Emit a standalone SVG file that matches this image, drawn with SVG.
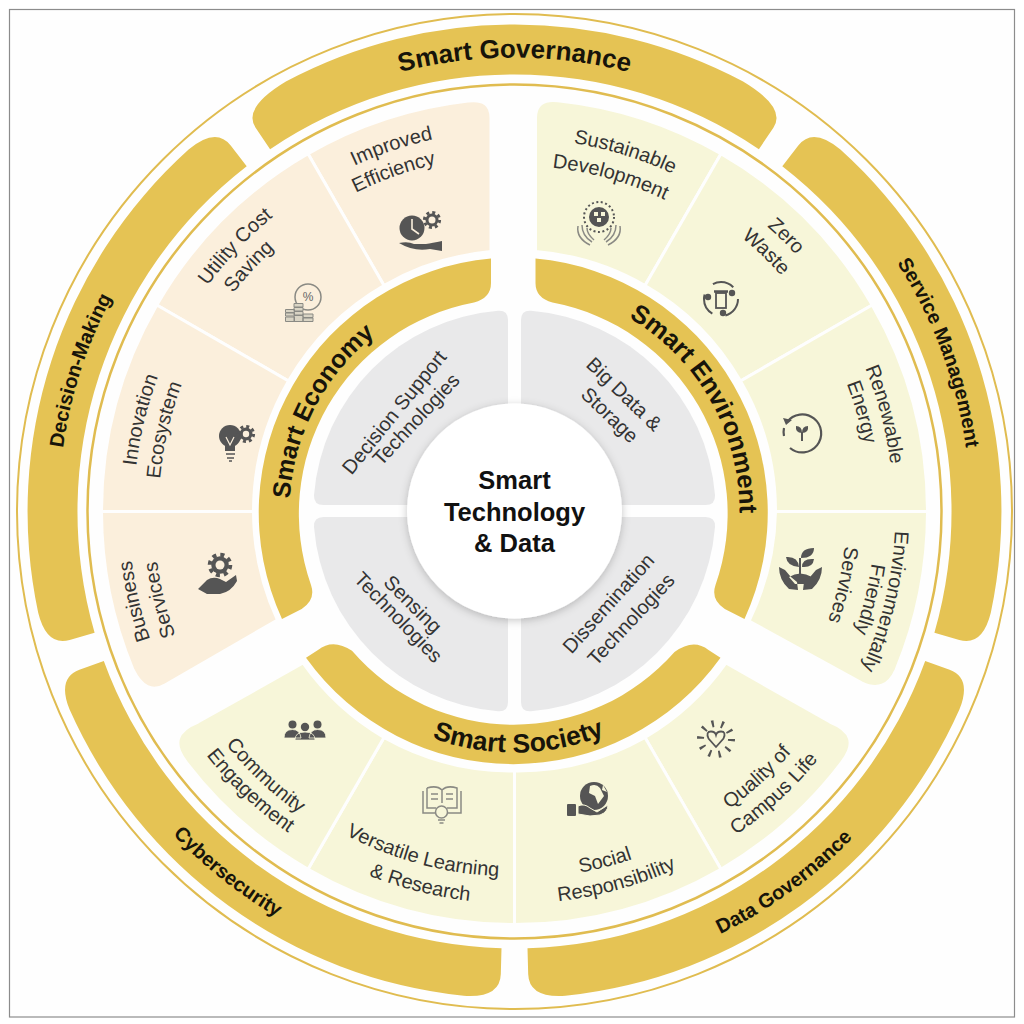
<svg xmlns="http://www.w3.org/2000/svg" width="1024" height="1024" viewBox="0 0 1024 1024">
<style>
text{font-family:"Liberation Sans",Arial,sans-serif}
.gold{fill:#e5c354}
.ring{fill:none;stroke:#e0bc50}
.pe{fill:#fbefdc;stroke:#fefefe;stroke-width:3}
.ye{fill:#f7f6d9;stroke:#fefefe;stroke-width:3}
.gr{fill:#e9e9ea}
.t{font-size:20px;fill:#333;text-anchor:middle}
.b{font-weight:700;fill:#17140a;text-anchor:middle}
.c{font-size:25.5px;font-weight:700;fill:#111;text-anchor:middle}
.i{fill:#555}
.il{fill:none;stroke:#555;stroke-width:2}
.il2{fill:none;stroke:#8a8a84;stroke-width:1.5}
</style>
<defs>
<filter id="sh" x="-20%" y="-20%" width="140%" height="140%"><feDropShadow dx="0" dy="2" stdDeviation="4" flood-color="#000" flood-opacity=".22"/></filter>
<path id="cw454" d="M514.5,965.5A454,454 0 1 1 514.5,57.5A454,454 0 1 1 514.5,965.5"/>
<path id="cw456" d="M514.5,967.5A456,456 0 1 1 514.5,55.5A456,456 0 1 1 514.5,967.5"/>
<path id="cw225" d="M514.5,736.5A225,225 0 1 1 514.5,286.5A225,225 0 1 1 514.5,736.5"/>
<path id="ccw470" d="M514.5,41.5A470,470 0 1 0 514.5,981.5A470,470 0 1 0 514.5,41.5"/>
<path id="ccw241" d="M514.5,270.5A241,241 0 1 0 514.5,752.5A241,241 0 1 0 514.5,270.5"/>
<path id="c386" d="M514.5,897.5A386,386 0 1 1 514.5,125.5A386,386 0 1 1 514.5,897.5"/>
<path id="c381" d="M514.5,892.5A381,381 0 1 1 514.5,130.5A381,381 0 1 1 514.5,892.5"/>
<path id="c379" d="M514.5,890.5A379,379 0 1 1 514.5,132.5A379,379 0 1 1 514.5,890.5"/>
<path id="c373" d="M514.5,884.5A373,373 0 1 1 514.5,138.5A373,373 0 1 1 514.5,884.5"/>
<path id="c361" d="M514.5,872.5A361,361 0 1 1 514.5,150.5A361,361 0 1 1 514.5,872.5"/>
<path id="c356" d="M514.5,867.5A356,356 0 1 1 514.5,155.5A356,356 0 1 1 514.5,867.5"/>
<path id="c346" d="M514.5,857.5A346,346 0 1 1 514.5,165.5A346,346 0 1 1 514.5,857.5"/>
<path id="c332" d="M514.5,843.5A332,332 0 1 1 514.5,179.5A332,332 0 1 1 514.5,843.5"/>
<path id="a371" d="M514.5,140.5A371,371 0 1 0 514.5,882.5A371,371 0 1 0 514.5,140.5"/>
<path id="a393" d="M514.5,118.5A393,393 0 1 0 514.5,904.5A393,393 0 1 0 514.5,118.5"/>
<path id="a365" d="M514.5,146.5A365,365 0 1 0 514.5,876.5A365,365 0 1 0 514.5,146.5"/>
<path id="a392" d="M514.5,119.5A392,392 0 1 0 514.5,903.5A392,392 0 1 0 514.5,119.5"/>
<path id="a367" d="M514.5,144.5A367,367 0 1 0 514.5,878.5A367,367 0 1 0 514.5,144.5"/>
<g id="gear"><circle r="6.5"/><circle r="7.6" fill="none" stroke="#555" stroke-width="3" stroke-dasharray="3 2.97"/></g>
</defs>
<rect width="1024" height="1024" fill="#fff"/>
<rect x="9.5" y="9.5" width="1005" height="1007.5" fill="#fefefe" stroke="#8c8c8c" stroke-width="1.2"/>
<circle class="ring" cx="514.5" cy="511.5" r="497.5" stroke-width="2"/>
<circle class="ring" cx="514.5" cy="511.5" r="427" stroke-width="2.5"/>

<g id="smart-governance">
<path class="gold" d="M270.1,149.2L255.6,127.7Q242.2,107.8 285.9,81.5A487,487 0 0 1 743.1,81.5Q786.8,107.8 773.4,127.7L758.9,149.2A437,437 0 0 0 270.1,149.2Z"/>
<text class="b" font-size="26" transform="rotate(0 514.5 511.5)"><textPath href="#cw454" startOffset="50%">Smart Governance</textPath></text>
</g>
<g id="service-management">
<path class="gold" d="M782.3,166.2L798.3,145.6Q813,126.7 840.4,149.6A487,487 0 0 1 990.8,612.7Q982.4,646.5 959.3,639.9L934.4,632.7A437,437 0 0 0 782.3,166.2Z"/>
<text class="b" font-size="20" transform="rotate(69.5 514.5 511.5)"><textPath href="#cw456" startOffset="50%">Service Management</textPath></text>
</g>
<g id="data-governance">
<path class="gold" d="M925.2,661L949.6,669.8Q972.1,678.1 959.4,709.6A487,487 0 0 1 565.4,995.8Q529,998.3 528.2,974.3L527.5,948.3A437,437 0 0 0 925.2,661Z"/>
<text class="b" font-size="20" transform="rotate(-36 514.5 511.5)"><textPath href="#ccw470" startOffset="50%">Data Governance</textPath></text>
</g>
<g id="cybersecurity">
<path class="gold" d="M103.8,661L79.4,669.8Q56.9,678.1 69.6,709.6A487,487 0 0 0 463.6,995.8Q500,998.3 500.8,974.3L501.5,948.3A437,437 0 0 1 103.8,661Z"/>
<text class="b" font-size="20" transform="rotate(38.5 514.5 511.5)"><textPath href="#ccw470" startOffset="50%">Cybersecurity</textPath></text>
</g>
<g id="decision-making">
<path class="gold" d="M246.7,166.2L230.7,145.6Q216,126.7 188.6,149.6A487,487 0 0 0 38.2,612.7Q46.6,646.5 69.7,639.9L94.6,632.7A437,437 0 0 1 246.7,166.2Z"/>
<text class="b" font-size="20" transform="rotate(-72 514.5 511.5)"><textPath href="#cw456" startOffset="50%">Decision-Making</textPath></text>
</g>

<g id="smart-economy">
<path class="gold" d="M491,258.6L491,283Q491,298 474,302.5A215,215 0 0 0 311,585Q316,600 301.7,609L282,619A255,255 0 0 1 491,258.6Z"/>
<text class="b" font-size="25" transform="rotate(-62.5 514.5 511.5)"><textPath href="#cw225" startOffset="50%">Smart Economy</textPath></text>
</g>
<g id="smart-environment">
<path class="gold" d="M535.5,258.6L535.5,283Q535.5,298 552.5,302.5A215,215 0 0 1 715.5,585Q710.5,600 724.8,609L744.5,619A255,255 0 0 0 535.5,258.6Z"/>
<text class="b" font-size="25.5" transform="rotate(60.5 514.5 511.5)"><textPath href="#cw225" startOffset="50%">Smart Environment</textPath></text>
</g>
<g id="smart-society">
<path class="gold" d="M306,657.7L318,650Q333,638 352,650.8A214,214 0 0 0 674.5,652Q693.5,638 708.5,650L720.5,657.7A255,255 0 0 1 306,657.7Z"/>
<text class="b" font-size="26.5" transform="rotate(-1 514.5 511.5)"><textPath href="#ccw241" startOffset="50%">Smart Society</textPath></text>
</g>

<g id="improved-efficiency">
<path class="pe" d="M308,153.8A413,413 0 0 1 468,101.1Q491,98 491,118L491,251.5A261,261 0 0 0 384,285.5Z"/>
<text class="t" transform="rotate(-18.6 514.5 511.5)"><textPath href="#c381" startOffset="50%">Improved</textPath></text>
<text class="t" transform="rotate(-19.6 514.5 511.5)"><textPath href="#c356" startOffset="50%">Efficiency</textPath></text>
<circle class="i" cx="412" cy="228" r="12.5"/>
<path d="M412,219V229L419,234" fill="none" stroke="#fbefdc" stroke-width="1.6"/>
<use href="#gear" class="i" x="432" y="220"/><circle cx="432" cy="220" r="3.5" fill="#fbefdc"/>
<path class="i" d="M399,243Q408,241 414,244L426,244Q432,243 442,241L442,251L430,249Q414,252 399,243Z"/>
</g>
<g id="utility-cost-saving">
<path class="pe" d="M156.8,305A413,413 0 0 1 308,153.8L384,285.5A261,261 0 0 0 288.5,381Z"/>
<text class="t" transform="rotate(-46.5 514.5 511.5)"><textPath href="#c381" startOffset="50%">Utility Cost</textPath></text>
<text class="t" transform="rotate(-47.3 514.5 511.5)"><textPath href="#c356" startOffset="50%">Saving</textPath></text>
<circle class="il2" cx="308" cy="297" r="13"/>
<text x="308" y="301" font-size="12" fill="#666" text-anchor="middle">%</text>
<path fill="#d9d4c4" stroke="#8a8a84" d="M285.5,309.5h9v3h-9zM285.5,313h9v3h-9zM285.5,317h9v4.500h-9zM294,303.500h9v3.500h-9zM294,307.500h9v3.500h-9zM294,311.500h9v3.500h-9zM294,315.500h9v6h-9zM303,314h10v3.500h-10zM303,318h10v3.500h-10z"/>
</g>
<g id="innovation-ecosystem">
<path class="pe" d="M101.500,511.500A413,413 0 0 1 156.8,305L288.5,381A261,261 0 0 0 253.5,511.500Z"/>
<text class="t" transform="rotate(-76.2 514.5 511.5)"><textPath href="#c381" startOffset="50%">Innovation</textPath></text>
<text class="t" transform="rotate(-76.9 514.5 511.5)"><textPath href="#c356" startOffset="50%">Ecosystem</textPath></text>
<circle class="i" cx="230" cy="436" r="11"/><path class="i" d="M225,445h10v6h-10z"/>
<path d="M226,437l4,8l4,-8" fill="none" stroke="#fbefdc" stroke-width="1.2"/>
<path class="il" d="M226,454h9M227,458h7M229,461h3" style="stroke-width:1.6"/>
<use href="#gear" class="i" x="246" y="434"/><circle cx="246" cy="434" r="3.2" fill="#fbefdc"/>
</g>
<g id="business-services">
<path class="pe" d="M253.500,511.500L101.500,511.500A413,413 0 0 0 133,669.700Q146,696 165,685L277.500,620A261,261 0 0 1 253.500,511.500Z"/>
<text class="t" transform="rotate(-103.3 514.5 511.5)"><textPath href="#c386" startOffset="50%">Business</textPath></text>
<text class="t" transform="rotate(-104 514.5 511.5)"><textPath href="#c361" startOffset="50%">Services</textPath></text>
<use href="#gear" class="i" transform="translate(220,565) scale(1.35)"/><circle cx="220" cy="565" r="4.500" fill="#fbefdc"/>
<path class="i" d="M198,589L207,580Q213,576 220,579L226,582L236,575L237,581Q231,592 220,594L207,594Z"/>
</g>

<g id="sustainable-development">
<path class="ye" d="M535.500,118Q535.500,98 558,100.800A413,413 0 0 1 721,153.800L645,285.500A261,261 0 0 0 535.500,251.500Z"/>
<text class="t" transform="rotate(17.1 514.5 511.5)"><textPath href="#c373" startOffset="50%">Sustainable</textPath></text>
<text class="t" transform="rotate(16 514.5 511.5)"><textPath href="#c346" startOffset="50%">Development</textPath></text>
<circle class="i" cx="599" cy="217" r="10"/>
<path d="M594,212h4v4h-4zM601,212h4v4h-4zM597,218h4v4h-4z" fill="#f7f6d9"/>
<circle class="il" cx="599" cy="217" r="15" stroke-dasharray="2 2.500"/>
<path class="il2" d="M578,226Q576,238 590,245M582,225Q582,236 592,242M587,228Q587,234 594,240M620,226Q622,238 608,245M616,225Q616,236 606,242M611,228Q611,234 604,240"/>
</g>
<g id="zero-waste">
<path class="ye" d="M721,153.800A413,413 0 0 1 872.200,305L740.500,381A261,261 0 0 0 645,285.500Z"/>
<text class="t" transform="rotate(44.6 514.5 511.5)"><textPath href="#c381" startOffset="50%">Zero</textPath></text>
<text class="t" transform="rotate(44.1 514.5 511.5)"><textPath href="#c356" startOffset="50%">Waste</textPath></text>
<circle class="il" cx="721" cy="299" r="17" stroke-dasharray="22 13.600"/>
<rect class="il" x="716" y="293" width="10" height="15" style="stroke-width:1.8"/><path class="il" d="M714,291.500h14" style="stroke-width:2.500"/>
<circle class="i" cx="708" cy="297" r="3.200"/><circle class="i" cx="732" cy="293" r="3.200"/><circle class="i" cx="723" cy="313" r="3.200"/>
</g>
<g id="renewable-energy">
<path class="ye" d="M872.200,305A413,413 0 0 1 927.500,511.500L775.500,511.500A261,261 0 0 0 740.500,381Z"/>
<text class="t" transform="rotate(75.3 514.5 511.5)"><textPath href="#c379" startOffset="50%">Renewable</textPath></text>
<text class="t" transform="rotate(74 514.5 511.5)"><textPath href="#c356" startOffset="50%">Energy</textPath></text>
<path class="il" d="M787,422A19,19 0 1 1 790,448M784,436A19,19 0 0 1 784,428" style="stroke-width:2.200"/><path class="i" d="M783,418l9,2l-6,5z"/>
<path class="il" d="M802,441V432"/><path class="i" d="M802,433Q795,433 796,426Q802,426 802,433ZM802,433Q809,433 808,426Q802,426 802,433Z"/>
</g>
<g id="environmentally-friendly-services">
<path class="ye" d="M775.500,511.500L927.500,511.500A413,413 0 0 1 896,670Q885,694 862,683L749,621A261,261 0 0 0 775.500,511.500Z"/>
<text class="t" transform="rotate(103.6 514.5 511.5)"><textPath href="#c381" startOffset="50%">Environmentally</textPath></text>
<text class="t" transform="rotate(103.9 514.5 511.5)"><textPath href="#c361" startOffset="50%">Friendly</textPath></text>
<text class="t" transform="rotate(102.6 514.5 511.5)"><textPath href="#c332" startOffset="50%">Services</textPath></text>
<path class="i" d="M779,567Q779,580 789,589L798,590L797,582Q790,577 785,570ZM822,567Q822,580 812,589L803,590L804,582Q811,577 816,570ZM789,577Q800,570 812,577L806,584L795,584Z"/>
<path class="il" d="M800,574V558"/>
<path class="i" d="M801,558Q801,548 814,548Q814,558 801,558ZM799,567Q787,566 786,557Q798,556 799,567ZM802,567Q813,568 814,559Q802,558 802,567Z"/>
</g>

<g id="quality-of-campus-life">
<path class="ye" d="M645,737.500L721,869.200A413,413 0 0 0 842,762Q863,735 830,722L726,663A261,261 0 0 1 645,737.500Z"/>
<text class="t" transform="rotate(-42.4 514.5 511.5)"><textPath href="#a367" startOffset="50%">Quality of</textPath></text>
<text class="t" transform="rotate(-42.6 514.5 511.5)"><textPath href="#a392" startOffset="50%">Campus Life</textPath></text>
<circle class="il" cx="716" cy="739" r="15.500" style="stroke-width:7" stroke-dasharray="2.200 7.540"/>
<path class="il" d="M716,747L708.500,738.500Q705.500,731.500 711,731.500Q715,731.500 716,735Q717,731.500 721,731.500Q726.500,731.500 723.500,738.500Z" style="stroke-width:1.800"/>
</g>
<g id="social-responsibility">
<path class="ye" d="M514.500,771L514.500,924.500A413,413 0 0 0 721,869.200L645,737.500A261,261 0 0 1 514.500,771Z"/>
<text class="t" transform="rotate(-14.5 514.5 511.5)"><textPath href="#a367" startOffset="50%">Social</textPath></text>
<text class="t" transform="rotate(-15.4 514.5 511.5)"><textPath href="#a392" startOffset="50%">Responsibility</textPath></text>
<circle class="i" cx="594" cy="796" r="14"/>
<path d="M590,786Q596,783 600,788L604,796L598,804L595,796L589,793ZM603,785L607,792L602,790Z" fill="#f7f6d9"/>
<rect class="i" x="567" y="804" width="9" height="12" rx="1"/>
<path class="i" d="M578,806Q584,803 590,808L597,812L608,805Q608,812 600,815L590,816L578,814Z" stroke="#f7f6d9" stroke-width="1"/>
</g>
<g id="versatile-learning-research">
<path class="ye" d="M384,737.500L308,869.200A413,413 0 0 0 514.500,924.500L514.500,771A261,261 0 0 1 384,737.500Z"/>
<text class="t" transform="rotate(15 514.5 511.5)"><textPath href="#a365" startOffset="50%">Versatile Learning</textPath></text>
<text class="t" transform="rotate(14.2 514.5 511.5)"><textPath href="#a392" startOffset="50%">&amp; Research</textPath></text>
<path class="il2" d="M423,791V813H436M461,791V813H447M427,788Q437,785 442,790Q447,785 457,788V808H447M427,788V808H436M442,790V803M431,794H438M431,799H438M446,794H453M446,799H453"/>
<circle class="il2" cx="441.500" cy="812" r="6"/><path class="il2" d="M438,820H445M439.500,823H443.500"/>
</g>
<g id="community-engagement">
<path class="ye" d="M384,737.500A261,261 0 0 1 303,663L198,722Q165,735 186,762A413,413 0 0 0 308,869.200Z"/>
<text class="t" transform="rotate(43.3 514.5 511.5)"><textPath href="#a371" startOffset="50%">Community</textPath></text>
<text class="t" transform="rotate(43.4 514.5 511.5)"><textPath href="#a393" startOffset="50%">Engagement</textPath></text>
<circle class="i" cx="292.500" cy="724.500" r="4"/><circle class="i" cx="317.500" cy="724.500" r="4"/><circle class="i" cx="305" cy="727" r="4.200"/>
<path class="i" d="M284,738Q284,729.500 292.500,729.500Q300,729.500 301,738ZM309,738Q310,729.500 317.500,729.500Q326,729.500 326,738ZM295,740Q295,732 305,732Q315,732 315,740Z" stroke="#f7f6d9" stroke-width=".8"/>
</g>

<g id="decision-support-technologies">
<path class="gr" d="M508,320Q508,310 498,310.700A201,201 0 0 0 314,495Q313.500,505 323.500,505L508,505Z"/>
<text class="t" transform="translate(399.500,416.500) rotate(-51)">Decision Support</text>
<text class="t" transform="translate(421,424) rotate(-47)">Technologies</text>
</g>
<g id="big-data-storage">
<path class="gr" d="M521,320Q521,310 531,310.700A201,201 0 0 1 715,495Q715.500,505 705.500,505L521,505Z"/>
<text class="t" transform="translate(619.500,399) rotate(44)">Big Data &amp;</text>
<text class="t" transform="translate(605,420) rotate(44)">Storage</text>
</g>
<g id="sensing-technologies">
<path class="gr" d="M508,517L323.500,517Q313.500,517 314,527A201,201 0 0 0 498,711.300Q508,712 508,702Z"/>
<text class="t" transform="translate(408,609) rotate(45)">Sensing</text>
<text class="t" transform="translate(393.500,622) rotate(46)">Technologies</text>
</g>
<g id="dissemination-technologies">
<path class="gr" d="M521,517L705.500,517Q715.500,517 715,527A201,201 0 0 1 531,711.300Q521,712 521,702Z"/>
<text class="t" transform="translate(613.500,608) rotate(-48)">Dissemination</text>
<text class="t" transform="translate(636,624) rotate(-47)">Technologies</text>
</g>
<g id="center">
<circle cx="514.500" cy="511" r="107.500" fill="#fff" filter="url(#sh)"/>
<text class="c" x="514.500" y="489">Smart</text>
<text class="c" x="514.500" y="520.500">Technology</text>
<text class="c" x="514.500" y="552">&amp; Data</text>
</g>
</svg>
